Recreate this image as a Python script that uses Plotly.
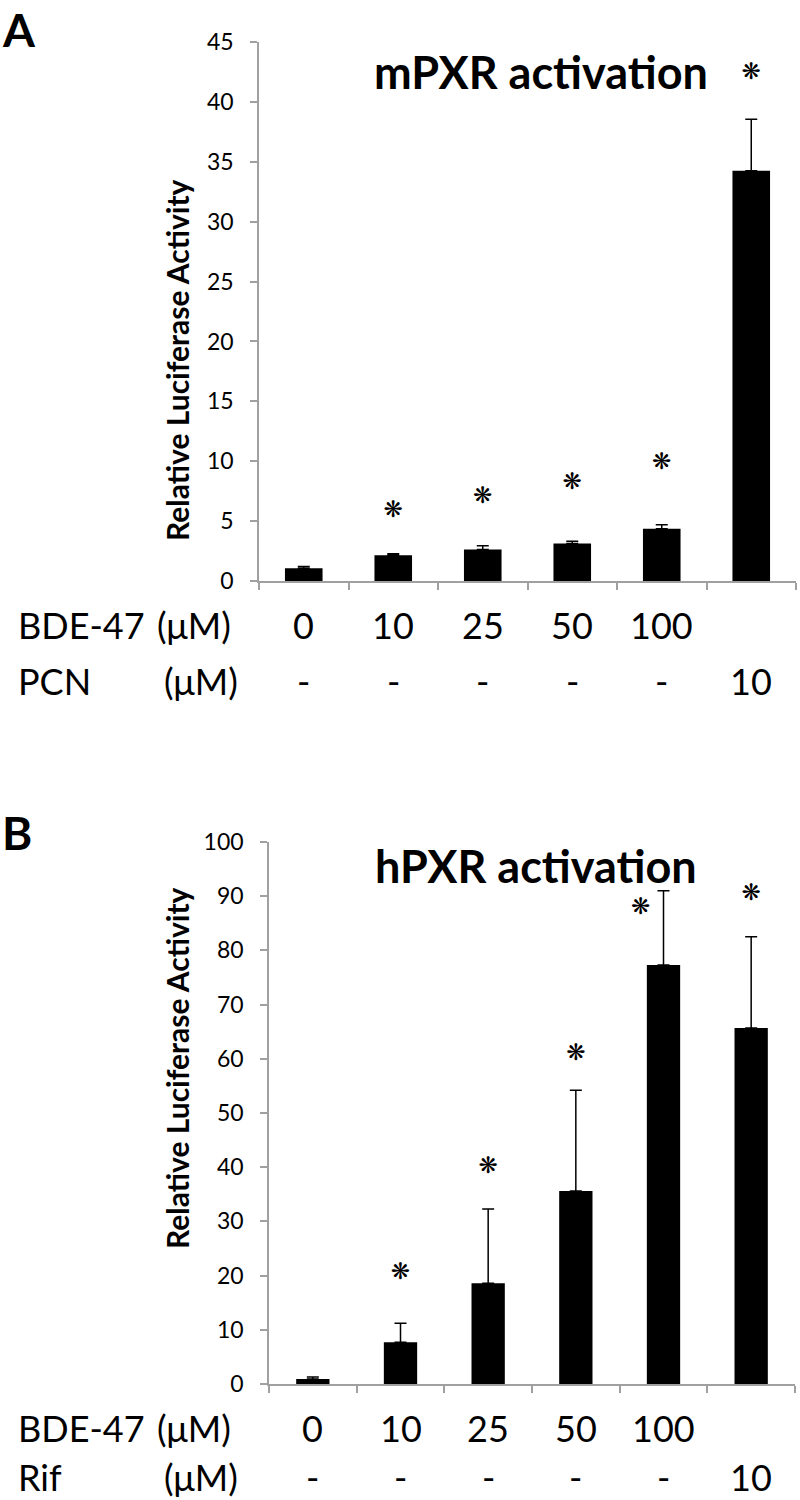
import plotly.graph_objects as go

# categories (index along x) and labels under the axis
cats = [0, 1, 2, 3, 4, 5]
bde_labels = ["0", "10", "25", "50", "100", ""]
pcn_labels = ["-", "-", "-", "-", "-", "10"]
rif_labels = ["-", "-", "-", "-", "-", "10"]

# panel A: mPXR
m_mean = [1.06, 2.14, 2.62, 3.14, 4.37, 34.25]
m_top = [1.22, 2.28, 2.95, 3.31, 4.70, 38.56]
m_star_x = [1, 2, 3, 4, 5]
m_star_y = [5.8, 7.0, 8.2, 9.8, 42.4]

# panel B: hPXR
h_mean = [0.9, 7.7, 18.6, 35.6, 77.3, 65.7]
h_top = [1.3, 11.2, 32.3, 54.2, 91.0, 82.5]
h_star_x = [1, 2, 3, 3.74, 5]
h_star_y = [20.5, 39.9, 60.9, 87.8, 90.4]

FONT = "Lato"
AXIS_GREY = "#a0a0a0"

fig = go.Figure()


def add_panel(mean, top, star_x, star_y, xa, ya, width):
    fig.add_trace(go.Bar(
        x=cats, y=mean, xaxis=xa, yaxis=ya, width=width,
        marker=dict(color="black", line=dict(width=0)),
        error_y=dict(type="data", symmetric=False,
                     array=[t - m for t, m in zip(top, mean)],
                     arrayminus=[0] * len(mean),
                     color="black", thickness=1.5, width=6),
        showlegend=False,
    ))
    fig.add_trace(go.Scatter(
        x=star_x, y=star_y, xaxis=xa, yaxis=ya, mode="text",
        text=["❋"] * len(star_x),
        textfont=dict(family="DejaVu Sans", size=23, color="black"),
        showlegend=False,
    ))


add_panel(m_mean, m_top, m_star_x, m_star_y, "x", "y", 0.42)
add_panel(h_mean, h_top, h_star_x, h_star_y, "x2", "y2", 0.38)

xaxis_common = dict(
    range=[-0.5, 5.5], tickvals=[-0.5, 0.5, 1.5, 2.5, 3.5, 4.5, 5.5],
    ticktext=[""] * 7, ticks="outside", ticklen=7, tickcolor=AXIS_GREY,
    tickwidth=1.5, showline=True, linecolor=AXIS_GREY, linewidth=1.5,
    showgrid=False, zeroline=False, automargin=False,
)
yaxis_common = dict(
    ticks="outside", ticklen=7, tickcolor=AXIS_GREY, tickwidth=1.5,
    showline=True, linecolor=AXIS_GREY, linewidth=1.5, showgrid=False,
    zeroline=False, tickfont=dict(family=FONT, size=23, color="black"),
    ticklabelstandoff=12, automargin=False,
)

fig.update_layout(
    width=800, height=1500,
    margin=dict(l=0, r=0, t=0, b=0),
    paper_bgcolor="white", plot_bgcolor="white",
    xaxis=dict(domain=[259 / 800, 796 / 800], anchor="y", **xaxis_common),
    yaxis=dict(domain=[(1500 - 581) / 1500, (1500 - 42) / 1500], anchor="x",
               range=[0, 45], dtick=5, **yaxis_common),
    xaxis2=dict(domain=[269 / 800, 795 / 800], anchor="y2", **xaxis_common),
    yaxis2=dict(domain=[(1500 - 1384) / 1500, (1500 - 842) / 1500], anchor="x2",
                range=[0, 100], dtick=10, **yaxis_common),
)

ann = []


def txt(text, x, y, size, bold=False, xref="paper", xanchor="center",
        yanchor="middle", angle=0):
    ann.append(dict(
        text=f"<b>{text}</b>" if bold else text, x=x, y=y, xref=xref, yref="paper",
        xanchor=xanchor, yanchor=yanchor, showarrow=False, textangle=angle,
        font=dict(family=FONT, size=size, color="black"),
    ))


def py(pix):
    return (1500 - pix) / 1500


# panel letters
txt("A", 0, 1, 46, bold=True, xanchor="left", yanchor="top")
txt("B", 0, py(832), 46, bold=True, xanchor="left")

# titles
txt("mPXR activation", 541 / 800, py(72), 45, bold=True)
txt("hPXR activation", 536 / 800, py(866), 45, bold=True)

# y axis titles
txt("Relative Luciferase Activity", 177 / 800, py(360), 30, bold=True, angle=-90)
txt("Relative Luciferase Activity", 177 / 800, py(1068), 30, bold=True, angle=-90)

# rows under the axes
for xr, row1, row2, name2 in [("x", 625, 681, "PCN"), ("x2", 1428, 1477, "Rif")]:
    txt("BDE-47", 16 / 800, py(row1), 36, xanchor="left")
    txt("(μM)", 155 / 800, py(row1), 36, xanchor="left")
    txt(name2, 16 / 800, py(row2), 36, xanchor="left")
    txt("(μM)", 162 / 800, py(row2), 36, xanchor="left")
    labels2 = pcn_labels if name2 == "PCN" else rif_labels
    for c, l1, l2 in zip(cats, bde_labels, labels2):
        if l1:
            txt(l1, c, py(row1), 36, xref=xr)
        txt(l2, c, py(row2), 36, xref=xr)

fig.update_layout(annotations=ann)

fig.write_html("out.html", config={"displayModeBar": False},
               post_script="document.body.style.margin='0px';")
